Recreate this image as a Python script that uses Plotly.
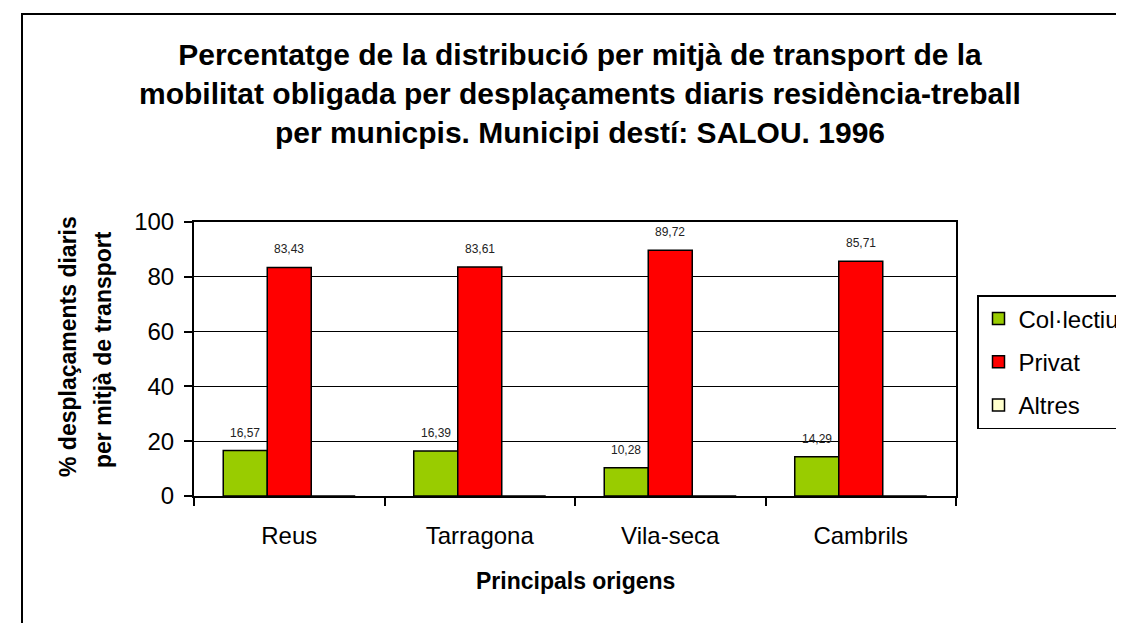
import plotly.graph_objects as go

categories = ["Reus", "Tarragona", "Vila-seca", "Cambrils"]
colectiu = [16.57, 16.39, 10.28, 14.29]
privat = [83.43, 83.61, 89.72, 85.71]
altres = [0, 0, 0, 0]
series_names = ["Col·lectiu", "Privat", "Altres"]
series_colors = ["#99CC00", "#FF0000", "#FFFFCC"]
y_ticks = [0, 20, 40, 60, 80, 100]

FONT = "Liberation Sans, Arial, sans-serif"

# the page body adds an 8px margin; positions below are in window pixels
OFF = 8
W, H = 1124 - OFF, 623 - OFF
L, R, T, B = 194 - OFF, 956 - OFF, 222 - OFF, 496 - OFF
pw, ph = R - L, B - T


def px_x(x):
    return (x - OFF - L) / pw


def px_y(y):
    return (B - (y - OFF)) / ph


fig = go.Figure()
for name, vals, col in zip(series_names, [colectiu, privat, altres], series_colors):
    fig.add_trace(go.Bar(
        x=categories, y=vals, name=name, legendgroup=name,
        marker=dict(color=col, line=dict(color="black", width=1.5)),
        hoverinfo="skip",
    ))


def fmt(v):
    return f"{v:.2f}".replace(".", ",")


annotations = []
# data labels
for vals, xs in [(colectiu, -44), (privat, 0)]:
    for c, v in zip(categories, vals):
        annotations.append(dict(
            x=c, y=v, xref="x", yref="y", text=fmt(v), showarrow=False,
            xshift=xs, yshift=18, yanchor="middle",
            font=dict(family=FONT, size=12, color="#222222"),
        ))

# title
annotations.append(dict(
    x=px_x(580), y=px_y(94), xref="paper", yref="paper",
    text="<b>Percentatge de la distribució per mitjà de transport de la<br>"
         "mobilitat obligada per desplaçaments diaris residència-treball<br>"
         "per municpis. Municipi destí: SALOU. 1996</b>",
    showarrow=False, xanchor="center", yanchor="middle", align="center",
    font=dict(family=FONT, size=30, color="black"),
))
# y axis title (two lines)
annotations.append(dict(
    x=px_x(68), y=px_y(346), xref="paper", yref="paper",
    text="<b>% desplaçaments diaris</b>", textangle=-90, showarrow=False,
    xanchor="center", yanchor="middle",
    font=dict(family=FONT, size=23, color="black"),
))
annotations.append(dict(
    x=px_x(103), y=px_y(350), xref="paper", yref="paper",
    text="<b>per mitjà de transport</b>", textangle=-90, showarrow=False,
    xanchor="center", yanchor="middle",
    font=dict(family=FONT, size=23, color="black"),
))
# x axis title
annotations.append(dict(
    x=0.5, y=px_y(581), xref="paper", yref="paper",
    text="<b>Principals origens</b>", showarrow=False,
    xanchor="center", yanchor="middle",
    font=dict(family=FONT, size=23, color="black"),
))

fig.update_layout(
    width=W, height=H,
    margin=dict(l=L, r=W - R, t=T, b=H - B, autoexpand=False),
    paper_bgcolor="white", plot_bgcolor="white",
    barmode="group", bargap=0.307, bargroupgap=0,
    font=dict(family=FONT, color="black"),
    showlegend=True,
    legend=dict(
        x=px_x(977), y=px_y(295), xanchor="left", yanchor="top",
        bgcolor="white", bordercolor="black", borderwidth=1.5,
        font=dict(family=FONT, size=24, color="black"),
        traceorder="grouped", tracegroupgap=9, itemwidth=30,
    ),
    annotations=annotations,
    shapes=[dict(
        type="rect", xref="paper", yref="paper",
        x0=px_x(22), x1=px_x(1400), y0=px_y(900), y1=px_y(14),
        line=dict(color="black", width=2), fillcolor="rgba(0,0,0,0)",
        layer="below",
    )],
)

fig.update_xaxes(
    showline=True, linecolor="black", linewidth=2, mirror=True,
    ticks="outside", tickson="boundaries", ticklen=8, tickwidth=2, tickcolor="black",
    tickfont=dict(family=FONT, size=24, color="black"),
    ticklabelstandoff=17, showgrid=False,
)
fig.update_yaxes(
    range=[0, 100], tickvals=y_ticks, showline=True, linecolor="black", linewidth=2,
    mirror=True, ticks="outside", ticklen=8, tickwidth=2, tickcolor="black",
    showgrid=True, gridcolor="black", gridwidth=1, zeroline=False,
    tickfont=dict(family=FONT, size=24, color="black"),
    ticklabelstandoff=5,
)

fig.write_html("out.html")
